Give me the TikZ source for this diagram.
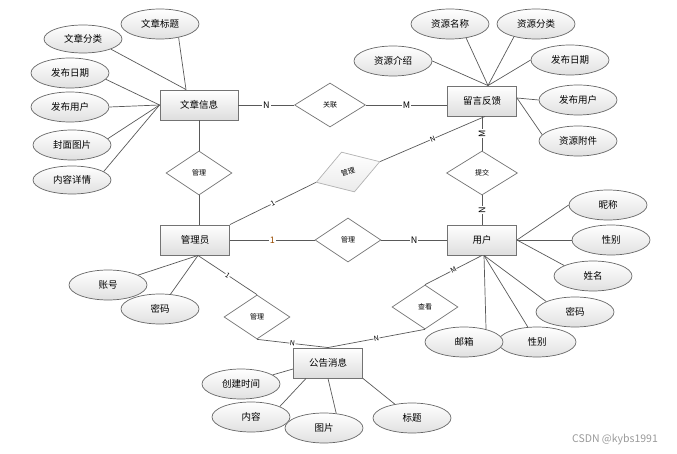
\documentclass[tikz,border=0pt]{standalone}
\usepackage{fontspec}
\setmainfont{Noto Sans CJK SC}
\usepackage{tikz}
\usetikzlibrary{shapes.geometric}
\tikzset{every node/.append style={font=\fontsize{9.5}{11}\selectfont, text=black}}
\tikzset{
  entity/.style={rectangle, draw=black!55, line width=0.9pt, top color=white, bottom color=black!13,
    minimum width=69pt, minimum height=30pt, inner sep=0pt},
  attr/.style={ellipse, draw=black!60, top color=white, bottom color=black!12,
    minimum width=78pt, minimum height=30pt, inner sep=0pt},
  rel/.style={diamond, draw=black!55, fill=white, minimum width=66pt, minimum height=44pt,
    inner sep=0pt, font=\fontsize{7}{8}\selectfont},
  card/.style={fill=white, inner sep=1pt, font=\fontsize{9}{10}\selectfont},
  tcard/.style={fill=white, inner sep=0.5pt, sloped, font=\fontsize{7}{8}\selectfont}
}

\begin{document}
\begin{tikzpicture}[x=1pt, y=-1pt, black!65, line width=0.7pt]
    \useasboundingbox (0,0) rectangle (677,454);
    % entities
    \node[entity, minimum width=78pt] (wz) at (199,105) {文章信息};
    \node[entity] (ly) at (482,101) {留言反馈};
    \node[entity] (gly) at (195,240) {管理员};
    \node[entity] (yh) at (482,240) {用户};
    \node[entity] (gg) at (328,363) {公告消息};
    % relations
    \node[rel] (r1) at (199,173) {管理};
    \node[rel, minimum width=71pt] (r2) at (330,105) {关联};
    \node[rel, rotate=18, draw=black!30, top color=white, bottom color=black!8,
      minimum width=67pt, minimum height=42pt] (r3) at (348,172) {管理};
    \node[rel, minimum width=71pt] (r4) at (482,173) {提交};
    \node[rel] (r5) at (348,240) {管理};
    \node[rel] (r6) at (425,307) {查看};
    \node[rel] (r7) at (257,317) {管理};
    % attributes
    \node[attr] (a1) at (160,24) {文章标题};
    \node[attr, minimum height=28pt] (a2) at (83,39) {文章分类};
    \node[attr] (a3) at (70,73) {发布日期};
    \node[attr] (a4) at (70,107) {发布用户};
    \node[attr] (a5) at (72,145) {封面图片};
    \node[attr, minimum height=28pt] (a6) at (72,180) {内容详情};
    \node[attr] (b1) at (450,24) {资源名称};
    \node[attr] (b2) at (536,24) {资源分类};
    \node[attr] (b3) at (393,61) {资源介绍};
    \node[attr] (b4) at (570,60) {发布日期};
    \node[attr] (b5) at (578,100) {发布用户};
    \node[attr] (b6) at (578,141) {资源附件};
    \node[attr] (c1) at (108,285) {账号};
    \node[attr] (c2) at (160,309) {密码};
    \node[attr] (d1) at (608,205) {昵称};
    \node[attr] (d2) at (611,240) {性别};
    \node[attr] (d3) at (593,276) {姓名};
    \node[attr] (d4) at (575,312) {密码};
    \node[attr] (d5) at (537,342) {性别};
    \node[attr] (d6) at (464,342) {邮箱};
    \node[attr] (e1) at (241,384) {创建时间};
    \node[attr] (e2) at (251,417) {内容};
    \node[attr] (e3) at (324,428) {图片};
    \node[attr] (e4) at (412,418) {标题};
    \node[text=black!40, font=\fontsize{10.5}{12}\selectfont] (wm) at (615,440) {CSDN @kybs1991};
    % attribute links
    \draw (a1.-36) -- ([xshift=-13pt]wz.north);
    \draw (a2.-20) -- ([xshift=-13pt]wz.north);
    \draw (a3.-10) -- (wz.west);
    \draw (a4.east) -- (wz.west);
    \draw (a5.10) -- (wz.west);
    \draw (a6.15) -- (wz.west);
    \draw (b1.-41) -- ([xshift=6pt]ly.north);
    \draw (b2.-150) -- ([xshift=6pt]ly.north);
    \draw (b3.east) -- ([xshift=6pt]ly.north);
    \draw (b4.west) -- ([xshift=6pt]ly.north);
    \draw (b5.west) -- ([yshift=3pt]ly.east);
    \draw (b6.170) -- ([yshift=3pt]ly.east);
    \foreach \c in {c1,c2} \draw (\c) -- ([xshift=3pt]gly.south);
    \draw (d1.west) -- (yh.east);
    \draw (d2.west) -- (yh.east);
    \draw (d3.160) -- (yh.east);
    \draw (d4.160) -- ([xshift=2pt]yh.south);
    \draw (d5) -- ([xshift=2pt]yh.south);
    \draw (d6.30) -- ([xshift=2pt]yh.south);
    \draw (e1) -- ([yshift=-6pt]gg.west);
    \draw (e2.20) -- ([xshift=-22pt]gg.south);
    \draw (e3.50) -- (gg.south);
    \draw (e4) -- (gg.south east);
    % relation links
    \draw (wz.east) -- node[card] {N} (r2.west);
    \draw (r2.east) -- node[card] {M} (r2.east -| ly.west);
    \draw (wz.south) -- (r1.north);
    \draw (r1.south) -- (r1.south |- gly.north);
    \draw (ly.south) -- node[card, rotate=90] {M} (r4.north);
    \draw (r4.south) -- node[card, rotate=90] {N} (yh.north);
    \draw (gly.east) -- node[card, text=orange!60!black] {1} (r5.west);
    \draw (r5.east) -- node[card] {N} (yh.west);
    \draw (gly.north east) -- node[tcard] {1} (r3.west);
    \draw (r3.east) -- node[tcard] {N} ([xshift=3pt]ly.south);
    \draw ([xshift=3pt]gly.south) -- node[tcard] {1} (r7.north);
    \draw (r7.south) -- node[tcard] {N} (gg.north);
    \draw (gg.north) -- node[tcard] {N} (r6.south);
    \draw (r6.north) -- node[tcard] {M} (yh.south);
\end{tikzpicture}
\end{document}
